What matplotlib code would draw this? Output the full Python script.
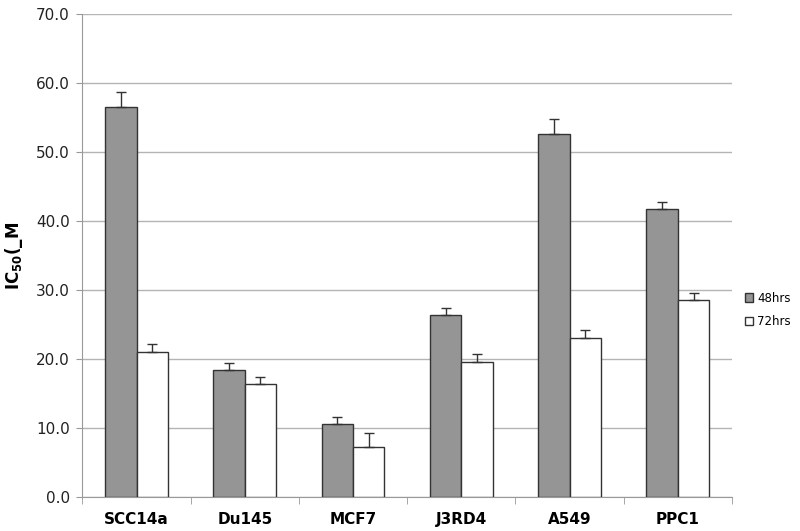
import numpy as np
import matplotlib
matplotlib.use("Agg")
import matplotlib.pyplot as plt

# data
cells = ['SCC14a', 'Du145', 'MCF7', 'J3RD4', 'A549', 'PPC1']
ic50_48 = [56.5, 18.4, 10.6, 26.3, 52.6, 41.7]
ic50_72 = [21.0, 16.3, 7.3, 19.6, 23.1, 28.5]
err_48 = [2.2, 1.0, 1.0, 1.1, 2.1, 1.0]
err_72 = [1.1, 1.1, 2.0, 1.1, 1.1, 1.1]

x = np.arange(len(cells))
w = 0.29

fig = plt.figure(figsize=(8, 5.31), dpi=100)
ax = fig.add_axes([0.103, 0.064, 0.812, 0.91])

ekw = dict(ecolor='#333333', elinewidth=1, capsize=3.5, capthick=1)
ax.bar(x - w / 2, ic50_48, w, color='#959595', edgecolor='#333333', linewidth=1,
       yerr=[np.zeros(len(x)), err_48], error_kw=ekw, label='48hrs', zorder=3)
ax.bar(x + w / 2, ic50_72, w, color='white', edgecolor='#333333', linewidth=1,
       yerr=[np.zeros(len(x)), err_72], error_kw=ekw, label='72hrs', zorder=3)

ax.set_xlim(-0.5, len(cells) - 0.5)
ax.set_ylim(0, 70)
ax.set_yticks(np.arange(0, 71, 10))
ax.set_yticklabels(['%.1f' % v for v in np.arange(0, 71, 10)], fontsize=11, color='#222222')
ax.yaxis.grid(True, color='#b4b4b4', linewidth=1)
ax.set_axisbelow(True)

# category labels at centres, tick marks between groups
ax.set_xticks(x)
ax.set_xticklabels(cells, fontsize=11, fontweight='bold')
ax.tick_params(axis='x', length=0, pad=11)
ax.set_xticks(np.arange(-0.5, len(cells)), minor=True)
ax.tick_params(axis='x', which='minor', length=5, color='#999999')
ax.tick_params(axis='y', length=4, color='#999999', pad=5)

for s in ['top', 'right']:
    ax.spines[s].set_visible(False)
for s in ['left', 'bottom']:
    ax.spines[s].set_color('#999999')

ax.set_ylabel('IC$_{\\mathbf{50}}$(_M', fontsize=12, fontweight='bold', labelpad=8)

ax.legend(loc='center left', bbox_to_anchor=(1.007, 0.387), frameon=False, fontsize=8.5,
          handlelength=0.7, handleheight=0.7, handletextpad=0.35, labelspacing=0.9,
          borderpad=0.2)

fig.savefig('out.png', dpi=100)
